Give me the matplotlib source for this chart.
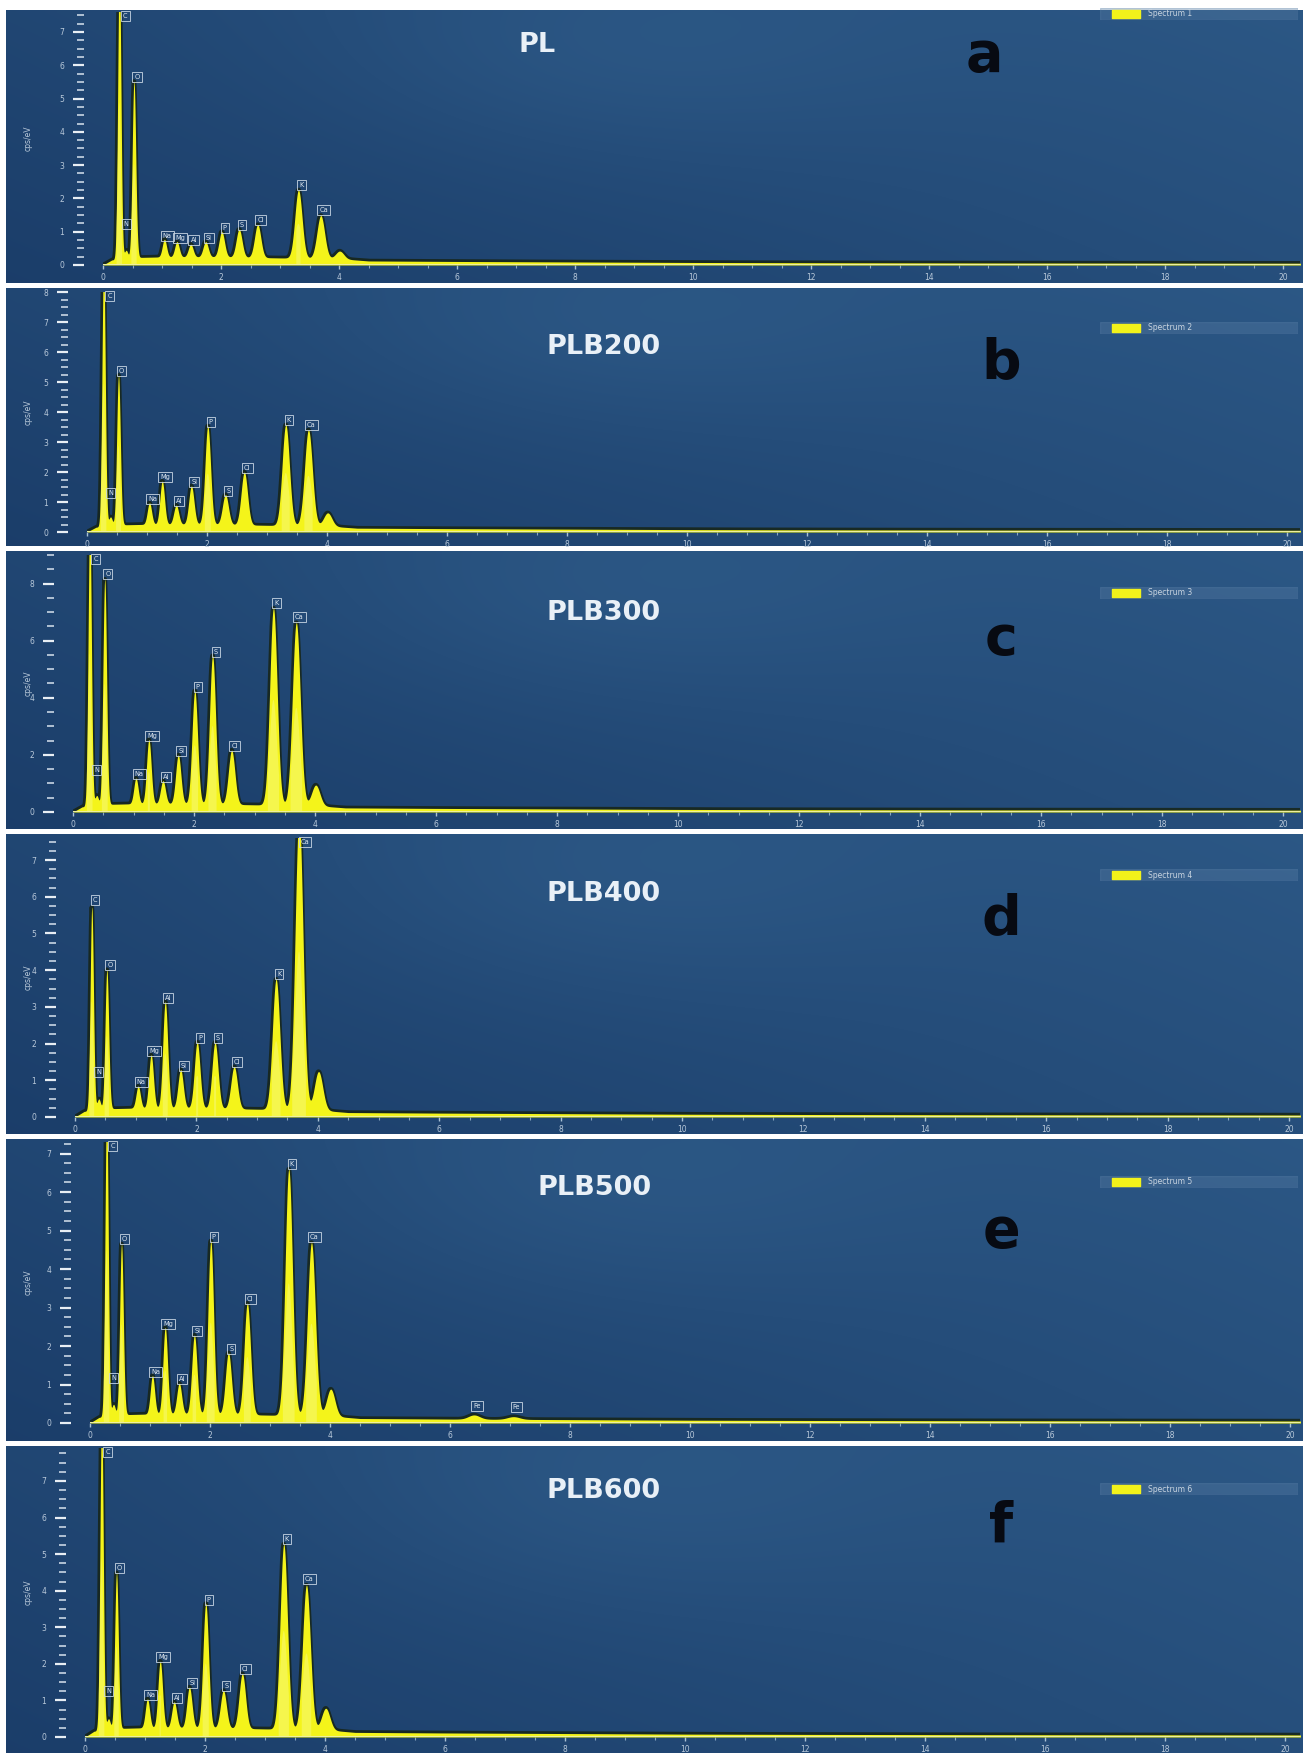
import numpy as np
import matplotlib
matplotlib.use("Agg")
import matplotlib.pyplot as plt
from matplotlib.ticker import MultipleLocator

# ---------------- data ----------------
elements = ["C", "N", "O", "Na", "Mg", "Al", "Si", "P", "S", "Cl", "K", "Ca", "Ca Kb", "Fe", "Fe Kb"]
energies_keV = [0.277, 0.392, 0.525, 1.041, 1.254, 1.487, 1.740, 2.013, 2.307, 2.622, 3.313, 3.691, 4.013, 6.400, 7.058]
peak_labels = ["C", "N", "O", "Na", "Mg", "Al", "Si", "P", "S", "Cl", "K", "Ca", "", "Fe", "Fe"]

samples = ["PL", "PLB200", "PLB300", "PLB400", "PLB500", "PLB600"]
panel_letters = ["a", "b", "c", "d", "e", "f"]
legend_names = ["Spectrum 1", "Spectrum 2", "Spectrum 3", "Spectrum 4", "Spectrum 5", "Spectrum 6"]

# peak heights (cps/eV), order as energies_keV
heights_PL     = [8.7, 0.25, 5.3, 0.53, 0.46, 0.38, 0.46, 0.76, 0.84, 0.99, 2.05, 1.29, 0.23, 0.0, 0.0]
heights_PLB200 = [8.8, 0.30, 5.0, 0.72, 1.44, 0.64, 1.28, 3.28, 1.00, 1.76, 3.36, 3.20, 0.44, 0.0, 0.0]
heights_PLB300 = [9.9, 0.35, 7.9, 0.90, 2.25, 0.81, 1.71, 3.96, 5.20, 1.90, 6.90, 6.40, 0.72, 0.0, 0.0]
heights_PLB400 = [5.55, 0.30, 3.8, 0.60, 1.45, 2.90, 1.05, 1.80, 1.80, 1.15, 3.55, 8.00, 1.05, 0.0, 0.0]
heights_PLB500 = [8.0, 0.30, 4.45, 1.00, 2.25, 0.80, 2.05, 4.50, 1.60, 2.90, 6.40, 4.50, 0.70, 0.11, 0.07]
heights_PLB600 = [8.7, 0.30, 4.27, 0.79, 1.82, 0.71, 1.11, 3.40, 1.03, 1.50, 5.06, 3.95, 0.59, 0.0, 0.0]
all_heights = [heights_PL, heights_PLB200, heights_PLB300, heights_PLB400, heights_PLB500, heights_PLB600]

# continuum (fraction of the panel's y range) read at a few energies
continuum_keV = [0.0, 0.15, 0.6, 1.0, 2.0, 3.0, 4.0, 4.5, 6.0, 8.0, 10.0, 12.0, 15.0, 20.5]
continuum_frac = [0.0, 0.02, 0.03, 0.032, 0.032, 0.028, 0.025, 0.016, 0.014, 0.012, 0.010, 0.009, 0.008, 0.007]

y_max = [7.6, 8.0, 9.0, 7.6, 7.3, 7.9]
y_step = [1, 1, 2, 1, 1, 1]

# ---------------- layout (pixels) ----------------
W, H, DPI = 1303, 1753, 100
strips = [(10, 283), (288, 546), (551, 829), (834, 1134), (1139, 1441), (1446, 1753)]
axes_px = [  # x0, top, baseline, px per keV
    (103, 12, 265, 59.0),
    (87, 292, 532, 60.0),
    (73, 555, 812, 60.5),
    (75, 838, 1117, 60.7),
    (90, 1142, 1423, 60.0),
    (85, 1448, 1737, 60.0),
]
title_pos = [(537, 45), (604, 347), (604, 613), (604, 894), (595, 1188), (604, 1491)]
letter_pos = [(984, 56), (1001, 363), (1001, 640), (1001, 919), (1001, 1232), (1001, 1527)]
legend_y = [14, 328, 593, 875, 1182, 1489]


def fr(x0, ytop, x1, ybot):
    return [x0 / W, 1 - ybot / H, (x1 - x0) / W, (ybot - ytop) / H]


fig = plt.figure(figsize=(W / DPI, H / DPI), dpi=DPI, facecolor="white")

dark = np.array([26, 60, 104]) / 255.0
light = np.array([48, 94, 140]) / 255.0

E = np.linspace(0, 20.6, 6000)

for i in range(6):
    s_top, s_bot = strips[i]
    # background gradient
    bg = fig.add_axes(fr(6, s_top, W, s_bot))
    bg.set_axis_off()
    xx, yy = np.meshgrid(np.linspace(0, 1, 200), np.linspace(0, 1, 60))
    f = np.clip(0.3 + 0.5 * xx - 0.25 * yy + 0.25 * np.exp(-((xx - 0.47) ** 2) / 0.05 - (yy - 0.15) ** 2 / 0.15), 0, 1)
    img = dark[None, None, :] + (light - dark)[None, None, :] * f[:, :, None]
    bg.imshow(img, aspect="auto", extent=(0, 1, 1, 0), interpolation="bilinear")
    bg.set_xlim(0, 1)
    bg.set_ylim(1, 0)

    x0, top, base, pxk = axes_px[i]
    ax = fig.add_axes(fr(x0, top, 1300, base))
    ax.patch.set_alpha(0)
    ymax = y_max[i]
    xmax = (1300 - x0) / pxk
    ax.set_xlim(0, xmax)
    ax.set_ylim(0, ymax)

    hts = all_heights[i]
    y = np.interp(E, continuum_keV, continuum_frac) * ymax
    for e0, h in zip(energies_keV, hts):
        sig = 0.024 + 0.011 * e0
        y = y + h * np.exp(-0.5 * ((E - e0) / sig) ** 2)

    ax.plot(E, y, color="#15200a", lw=3.2, alpha=0.75, zorder=2)
    ax.fill_between(E, 0, y, color="#f4f41a", lw=0, zorder=3)
    ax.fill_between(E, 0, y * 0.55, where=y > 0.25 * ymax, color="#f6f880", lw=0, zorder=3.5, alpha=0.5)
    ax.axhline(0, color="#eef0a0", lw=2.2, zorder=4)

    # peak labels
    lab_kw = dict(fontsize=4.8, color="#dfe8f0", ha="center", zorder=6,
                  bbox=dict(boxstyle="square,pad=0.3", fc="none", ec="#c8d6e4", lw=0.6))
    for e0, h, lab in zip(energies_keV, hts, peak_labels):
        if not lab or h <= 0:
            continue
        if lab == "N":
            ax.text(e0, 0.15 * ymax, lab, va="bottom", **lab_kw)
        elif h + 0.03 * ymax > 0.97 * ymax:
            ax.text(e0 + 0.1, 0.995 * ymax, lab, va="top", **lab_kw)
        else:
            ax.text(e0 + 0.05, h + 0.035 * ymax, lab, va="bottom", **lab_kw)

    for sp in ["top", "right", "bottom", "left"]:
        ax.spines[sp].set_visible(False)
    ax.spines["left"].set_position(("outward", 14))

    ax.yaxis.set_major_locator(MultipleLocator(y_step[i]))
    ax.yaxis.set_minor_locator(MultipleLocator(y_step[i] / 4))
    ax.xaxis.set_major_locator(MultipleLocator(2))
    ax.xaxis.set_minor_locator(MultipleLocator(0.5))
    ax.tick_params(axis="y", which="major", direction="out", length=8, width=1.6,
                   color="#e8eef4", labelsize=5.5, labelcolor="#b9c9da", pad=6)
    ax.tick_params(axis="y", which="minor", direction="out", length=5, width=1.2, color="#c9d6e4")
    ax.tick_params(axis="x", which="major", direction="out", length=3, width=1.0,
                   color="#a8c0d4", labelsize=5.5, labelcolor="#b9c9da", pad=3)
    ax.tick_params(axis="x", which="minor", direction="out", length=2, width=0.8, color="#8aa6c0")
    ax.set_yticklabels([f"{v:g}" for v in ax.get_yticks()])

    fig.text(28 / W, 1 - ((top + base) / 2) / H, "cps/eV", rotation=90, fontsize=5.5,
             color="#b9c9da", ha="center", va="center")

    # title and letter
    tx, ty = title_pos[i]
    fig.text(tx / W, 1 - ty / H, samples[i], fontsize=19.5, fontweight="bold",
             color="#e9f0f7", ha="center", va="center", family="DejaVu Sans")
    lx, ly = letter_pos[i]
    fig.text(lx / W, 1 - ly / H, panel_letters[i], fontsize=40, fontweight="heavy",
             color="#070a12", ha="center", va="center", family="DejaVu Sans")

    # legend
    lyp = legend_y[i]
    leg = fig.add_axes(fr(1100, lyp - 6, 1298, lyp + 6))
    leg.set_axis_off()
    leg.set_xlim(0, 1)
    leg.set_ylim(0, 1)
    leg.axhspan(0, 1, color="#5a7fa6", alpha=0.35)
    leg.fill_between([0.06, 0.2], 0.2, 0.8, color="#f2f21a")
    leg.text(0.24, 0.5, legend_names[i], fontsize=5.5, color="#c8d4e0", va="center", ha="left")

fig.savefig("out.png", dpi=DPI, facecolor="white")
